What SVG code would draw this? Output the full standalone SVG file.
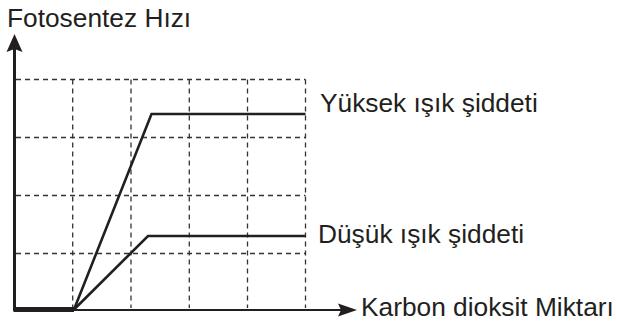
<svg xmlns="http://www.w3.org/2000/svg" width="617" height="321" viewBox="0 0 617 321">
<style>
.t{font-family:"Liberation Sans",Arial,Helvetica,sans-serif;font-size:26.3px;fill:#231f20}
.grid{stroke:#333;stroke-width:1.3;stroke-dasharray:5 4;fill:none}
.curve{stroke:#231f20;stroke-width:2.6;fill:none;stroke-linejoin:miter}
.axis{stroke:#231f20;fill:none}
</style>
<rect width="617" height="321" fill="#fff"/>
<g id="grid">
<path class="grid" d="M16 79.5H305.5M16 137.5H305.5M16 195.5H305.5M16 253.5H305.5"/>
<path class="grid" d="M72.7 79.5V308M131 79.5V308M189.3 79.5V308M247.5 79.5V308M305.5 79.5V308"/>
</g>
<g id="curves">
<polyline id="yuksek" class="curve" points="74,309.5 151.5,114 305.5,114"/>
<polyline id="dusuk" class="curve" points="74,309.5 148,236 305.5,236"/>
</g>
<g id="axes">
<line class="axis" x1="14.5" y1="311.5" x2="14.5" y2="48" stroke-width="3"/>
<polygon fill="#231f20" points="14.5,34 22.5,52 14.5,49 6.5,52"/>
<line class="axis" x1="14" y1="309.5" x2="74" y2="309.5" stroke-width="5"/>
<line class="axis" x1="72" y1="310" x2="344" y2="310" stroke-width="2"/>
<polygon fill="#231f20" points="357,310 338,303.5 341,310 338,316.5"/>
</g>
<g id="labels">
<text class="t" x="7" y="26.5">Fotosentez Hızı</text>
<text class="t" x="320" y="112">Yüksek ışık şiddeti</text>
<text class="t" x="318" y="243">Düşük ışık şiddeti</text>
<text class="t" x="361" y="315.5">Karbon dioksit Miktarı</text>
</g>
</svg>
